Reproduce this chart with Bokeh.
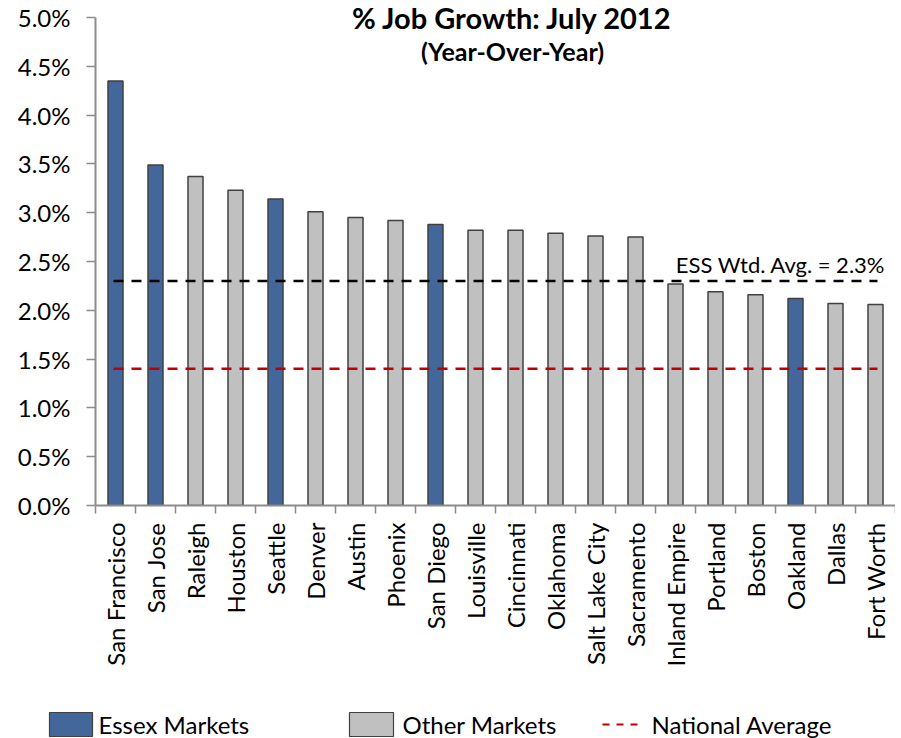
from bokeh.plotting import figure
from bokeh.layouts import column, row
from bokeh.models import (Range1d, FixedTicker, PrintfTickFormatter, Label,
                          ColumnDataSource)
from bokeh.core.properties import value
from bokeh.embed import file_html
from bokeh.resources import INLINE
import math

# ---- data ----
cities = ["San Francisco", "San Jose", "Raleigh", "Houston", "Seattle", "Denver",
          "Austin", "Phoenix", "San Diego", "Louisville", "Cincinnati", "Oklahoma",
          "Salt Lake City", "Sacramento", "Inland Empire", "Portland", "Boston",
          "Oakland", "Dallas", "Fort Worth"]
growth = [4.35, 3.49, 3.37, 3.23, 3.14, 3.01, 2.95, 2.92, 2.88, 2.82, 2.82, 2.79,
          2.76, 2.75, 2.27, 2.19, 2.16, 2.12, 2.07, 2.06]
essex = [True, True, False, False, True, False, False, False, True, False, False,
         False, False, False, False, False, False, True, False, False]
ess_wtd_avg = 2.3
national_avg = 1.4
y_ticks = [0.0, 0.5, 1.0, 1.5, 2.0, 2.5, 3.0, 3.5, 4.0, 4.5, 5.0]
legend_labels = ["Essex Markets", "Other Markets", "National Average"]

FONT = "Lato"
BLUE = "#44679B"
GRAY = "#C0C0C0"
EDGE = "#404040"
AXIS = "#8C8C8C"
RED = "#C00000"

n = len(cities)
idx = list(range(n))
y_max = y_ticks[-1]

FRAME_H = 505          # frame spans page y 0..505
AXIS_TOP = 17          # page y where the y axis (5.0%) ends
y_end = y_max * FRAME_H / (FRAME_H - AXIS_TOP)

p = figure(width=895, height=700, output_backend="svg", toolbar_location=None,
           x_range=Range1d(-0.5, n - 0.5), y_range=Range1d(0, y_end),
           min_border_left=95, min_border_right=0, min_border_top=0,
           min_border_bottom=700 - FRAME_H)
p.outline_line_color = None
p.xgrid.visible = False
p.ygrid.visible = False

src_e = ColumnDataSource(dict(x=[i for i in idx if essex[i]],
                              top=[growth[i] for i in idx if essex[i]]))
src_o = ColumnDataSource(dict(x=[i for i in idx if not essex[i]],
                              top=[growth[i] for i in idx if not essex[i]]))
p.vbar(x="x", top="top", width=0.375, bottom=0, source=src_e,
       fill_color=BLUE, line_color=EDGE, line_width=1.5)
p.vbar(x="x", top="top", width=0.375, bottom=0, source=src_o,
       fill_color=GRAY, line_color=EDGE, line_width=1.5)

# reference lines
p.line(x=[-0.05, n - 1 + 0.05], y=[ess_wtd_avg, ess_wtd_avg], line_color="black",
       line_width=2.5, line_dash="10 8")
p.line(x=[-0.05, n - 1 + 0.05], y=[national_avg, national_avg], line_color=RED,
       line_width=2.5, line_dash="10 8")

p.add_layout(Label(x=n - 0.75, y=ess_wtd_avg, y_offset=17,
                   text="ESS Wtd. Avg. = " + f"{ess_wtd_avg:.1f}%",
                   text_align="right", text_baseline="alphabetic",
                   text_font=FONT, text_font_size="22px", text_color="black"))

# titles
p.add_layout(Label(x=417, y=FRAME_H - 17, x_units="screen", y_units="screen",
                   text="% Job Growth: July 2012", text_align="center",
                   text_baseline="middle", text_font=FONT, text_font_size="29px",
                   text_font_style="bold", text_color="black"))
p.add_layout(Label(x=417, y=FRAME_H - 50, x_units="screen", y_units="screen",
                   text="(Year-Over-Year)", text_align="center",
                   text_baseline="middle", text_font=FONT, text_font_size="25px",
                   text_font_style="bold", text_color="black"))

# axes
xa = p.xaxis[0]
xa.ticker = FixedTicker(ticks=idx, minor_ticks=[i - 0.5 for i in range(n + 1)])
xa.major_label_overrides = {i: c for i, c in enumerate(cities)}
xa.major_label_orientation = math.pi / 2
xa.major_tick_out = 0
xa.major_tick_in = 0
xa.minor_tick_out = 8
xa.minor_tick_in = 0
xa.minor_tick_line_color = AXIS
xa.minor_tick_line_width = 1.5
xa.axis_line_color = AXIS
xa.axis_line_width = 2
xa.major_label_standoff = 9
xa.major_label_text_font = FONT
xa.major_label_text_font_size = "24px"
xa.major_label_text_color = "black"

ya = p.yaxis[0]
ya.ticker = FixedTicker(ticks=y_ticks, minor_ticks=[])
ya.formatter = PrintfTickFormatter(format="%.1f%%")
ya.bounds = (0, y_max)
ya.major_tick_out = 9
ya.major_tick_in = 0
ya.major_tick_line_color = AXIS
ya.major_tick_line_width = 1.5
ya.axis_line_color = AXIS
ya.axis_line_width = 2
ya.major_label_standoff = 16
ya.major_label_text_font = FONT
ya.major_label_text_font_size = "24px"
ya.major_label_text_color = "black"

# ---- legend strip (pixel coordinates, y up) ----
LH = 38
lg = figure(width=895, height=LH, output_backend="svg", toolbar_location=None,
            x_range=Range1d(0, 895), y_range=Range1d(0, LH),
            min_border=0, min_border_left=0, min_border_right=0,
            min_border_top=0, min_border_bottom=0,
            x_axis_type=None, y_axis_type=None)
lg.outline_line_color = None
lg.xgrid.visible = False
lg.ygrid.visible = False

box_bottom, box_top, mid = 2, 26, 14
lg.quad(left=[49], right=[92], bottom=[box_bottom], top=[box_top],
        fill_color=BLUE, line_color=EDGE, line_width=1.2)
lg.quad(left=[349], right=[393], bottom=[box_bottom], top=[box_top],
        fill_color=GRAY, line_color=EDGE, line_width=1.2)
lg.segment(x0=[602], x1=[638], y0=[mid], y1=[mid], line_color=RED,
           line_width=2, line_dash="7 7")
lg.text(x=[98, 402, 651], y=[mid, mid, mid], text=legend_labels,
        text_font=value(FONT), text_font_size="24px", text_color="black",
        text_baseline="middle", text_align="left")

layout = column(p, row(lg), spacing=0)
open("out.html", "w").write(file_html(layout, INLINE))
